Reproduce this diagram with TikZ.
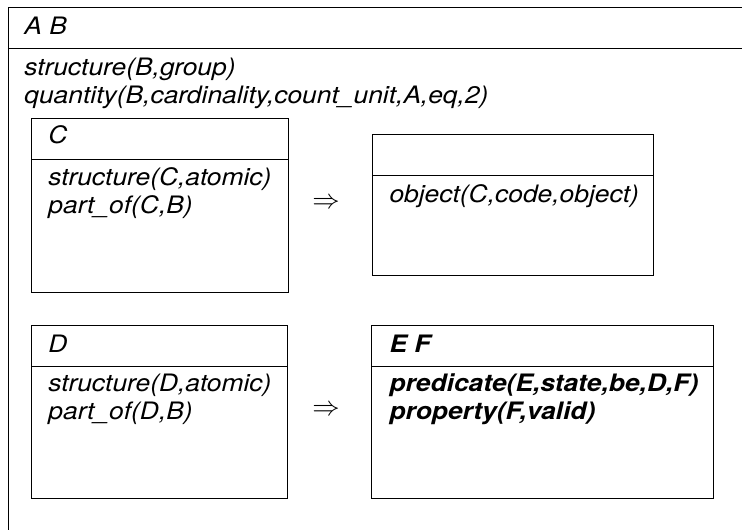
\documentclass[tikz,border=0pt]{standalone}
\usepackage{fontspec}
\setmainfont[FakeStretch=1.1]{TeX Gyre Heros}
\usetikzlibrary{calc}

\tikzset{
 txt/.style={anchor=base west, inner sep=0, font=\fontsize{9.6}{11}\selectfont\itshape},
 boldtxt/.style={txt, font=\fontsize{9.6}{11}\selectfont\bfseries\itshape},
 drsbox/.style 2 args={draw, anchor=north west, inner sep=0, minimum width=#1*.4pt, minimum height=#2*.4pt},
}

\begin{document}
\begin{tikzpicture}[x=.4pt,y=-.4pt]
\useasboundingbox (0,0) rectangle (742,529);
\clip (0,0) rectangle (742,529);
% outer box, runs past the page
\node[drsbox={760}{560}] (outer) at (8,7) {};
\draw (8,48) -- (outer.east |- 0,48);
\node[txt] (AB) at (24,34) {A B};
\node[txt] (sB) at (24,75) {structure(B,group)};
\node[txt] (qB) at (24,103) {quantity(B,cardinality,count\_unit,A,eq,2)};
% the four inner boxes
\node[drsbox={257}{174}] (C) at (31,118) {};
\node[drsbox={281}{141}] (O) at (372,134) {};
\node[drsbox={256}{173}] (D) at (31,325) {};
\node[drsbox={342}{173}] (EF) at (371,325) {};
\foreach \b in {C, O, D, EF} {
 \draw ($(\b.north west)+(0,41)$) -- ($(\b.north east)+(0,41)$);
}
% texts
\node[txt] (Cu) at (48,143) {C};
\node[txt] (sC) at (48,185) {structure(C,atomic)};
\node[txt] (pC) at (48,213) {part\_of(C,B)};
\node[txt] (oC) at (389,202) {object(C,code,object)};
\node[txt] (Du) at (48,352) {D};
\node[txt] (sD) at (48,391) {structure(D,atomic)};
\node[txt] (pD) at (48,419) {part\_of(D,B)};
\node[boldtxt] (EFu) at (389,352) {E F};
\node[boldtxt] (pE) at (389,391) {predicate(E,state,be,D,F)};
\node[boldtxt] (pF) at (389,419) {property(F,valid)};
% implications
\node[inner sep=0, font=\fontsize{11}{13}\selectfont] (imp1) at (326,203) {$\Rightarrow$};
\node[inner sep=0, font=\fontsize{11}{13}\selectfont] (imp2) at (326,410) {$\Rightarrow$};
\end{tikzpicture}
\end{document}
